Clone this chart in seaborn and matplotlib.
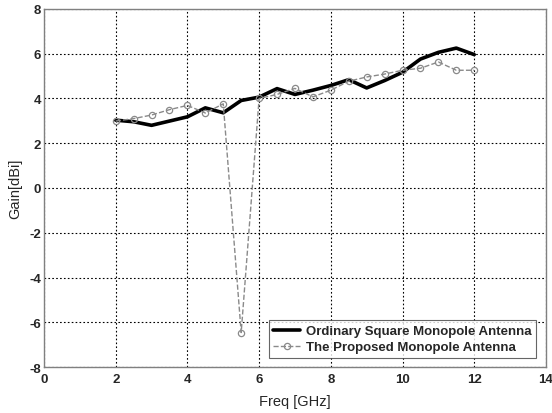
import matplotlib
matplotlib.use("Agg")
import matplotlib.pyplot as plt
import seaborn as sns
import pandas as pd

freq = [2.0, 2.5, 3.0, 3.5, 4.0, 4.5, 5.0, 5.5, 6.0, 6.5, 7.0, 7.5, 8.0, 8.5, 9.0, 9.5, 10.0, 10.5, 11.0, 11.5, 12.0]
gain_ordinary = [3.03, 2.96, 2.80, 2.99, 3.18, 3.58, 3.36, 3.91, 4.06, 4.44, 4.18, 4.37, 4.58, 4.84, 4.47, 4.80, 5.17, 5.76, 6.06, 6.25, 5.96]
gain_proposed = [2.99, 3.10, 3.26, 3.50, 3.69, 3.35, 3.76, -6.46, 4.00, 4.18, 4.45, 4.07, 4.37, 4.77, 4.96, 5.09, 5.26, 5.35, 5.63, 5.26, 5.26]

label_ordinary = "Ordinary Square Monopole Antenna"
label_proposed = "The Proposed Monopole Antenna"

sns.set_style("white")
plt.rcParams['font.family'] = ['Liberation Sans', 'DejaVu Sans']
plt.rcParams['axes.unicode_minus'] = False

df = pd.DataFrame({"freq": freq, "ordinary": gain_ordinary, "proposed": gain_proposed})

fig = plt.figure(figsize=(5.52, 4.14), dpi=100)
ax = fig.add_axes([0.0797, 0.111, 0.9093, 0.865])

sns.lineplot(data=df, x="freq", y="ordinary", ax=ax, color="black", linewidth=2.6,
             label=label_ordinary)
sns.lineplot(data=df, x="freq", y="proposed", ax=ax, color="#8a8a8a", linewidth=1.0,
             linestyle="--", marker="o", markersize=4.5, markerfacecolor="none",
             markeredgecolor="#8a8a8a", markeredgewidth=0.9, label=label_proposed)

ax.set_xlim(0, 14)
ax.set_ylim(-8, 8)
ax.set_xticks(range(0, 15, 2))
ax.set_yticks(range(-8, 9, 2))
ax.grid(True, color="black", linestyle=(0, (1.5, 2)), linewidth=0.8)
for lab in ax.get_xticklabels() + ax.get_yticklabels():
    lab.set_fontweight("bold")
    lab.set_fontsize(9.5)
ax.tick_params(axis="both", direction="in", length=3, color="#808080")
ax.tick_params(axis="x", pad=4)
ax.tick_params(axis="y", pad=2)
for s in ax.spines.values():
    s.set_color("#808080")
    s.set_linewidth(1.0)

ax.set_xlabel("Freq [GHz]", fontsize=10.5, labelpad=7)
ax.set_ylabel("Gain[dBi]", fontsize=10.5, labelpad=5)

leg = ax.legend(loc="lower right", bbox_to_anchor=(0.980, 0.025), borderaxespad=0,
                prop={"weight": "bold", "size": 9.5},
                frameon=True, fancybox=False, edgecolor="#404040", handlelength=2.0,
                borderpad=0.35, labelspacing=0.3, handletextpad=0.45)
leg.get_frame().set_linewidth(0.8)

fig.savefig("out.png", dpi=100)
